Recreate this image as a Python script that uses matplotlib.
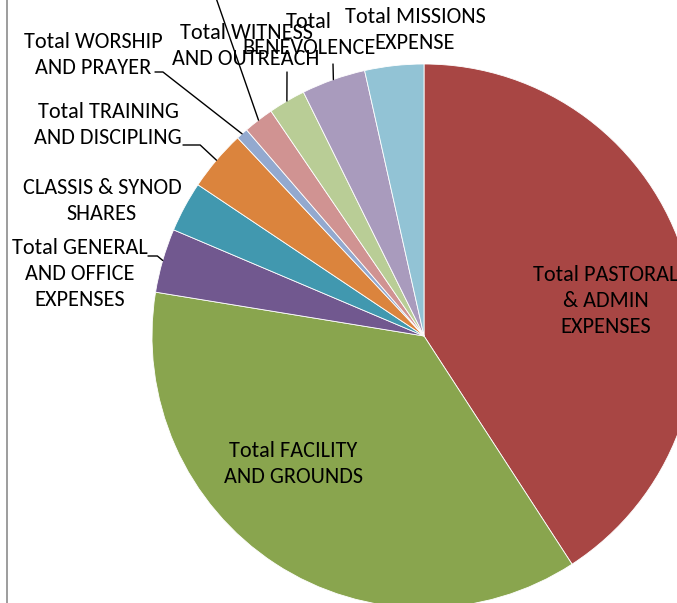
import matplotlib
matplotlib.use("Agg")
import matplotlib.pyplot as plt
from matplotlib.lines import Line2D
import numpy as np

# slices, clockwise from 12 o'clock
categories = ["Total PASTORAL & ADMIN EXPENSES", "Total FACILITY AND GROUNDS",
              "Total GENERAL AND OFFICE EXPENSES", "CLASSIS & SYNOD SHARES",
              "Total TRAINING AND DISCIPLING", "Total WORSHIP AND PRAYER",
              "", "Total WITNESS AND OUTREACH", "Total BENEVOLENCE",
              "Total MISSIONS EXPENSE"]
values = [40.8, 36.7, 3.8, 3.0, 3.6, 0.7, 1.8, 2.2, 3.8, 3.5]
colors = ["#A84644", "#89A54E", "#71588F", "#4198AF", "#DB843D",
          "#93A9CF", "#D09392", "#B9CD96", "#A99BBD", "#92C3D5"]

plt.rcParams['font.family'] = ['Carlito', 'Liberation Sans Narrow', 'Liberation Sans']
FS = 16

W, H = 677, 603
fig = plt.figure(figsize=(W / 100, H / 100), dpi=100)

def fpos(x, y):
    return x / W, 1 - y / H

cx, cy, r = 424, 336, 272
ax = fig.add_axes([(cx - r) / W, (H - cy - r) / H, 2 * r / W, 2 * r / H])
wedges, _ = ax.pie(values, colors=colors, startangle=90, counterclock=False,
                   radius=1, wedgeprops=dict(linewidth=0.6, edgecolor="white"))
ax.set_xlim(-1, 1)
ax.set_ylim(-1, 1)
ax.axis("off")

def edge_point(i):
    w = wedges[i]
    a = np.deg2rad((w.theta1 + w.theta2) / 2)
    return np.cos(a), np.sin(a)

# label text positions (pixel centres)
text_pos = {
    0: (606, 301),
    1: (293, 464),
    2: (80, 274),
    3: (102, 201),
    4: (108, 125),
    5: (93, 55),
    7: (246, 46),
    8: (309, 35),
    9: (415, 30),
}
label_text = {
    0: "Total PASTORAL\n& ADMIN\nEXPENSES",
    1: "Total FACILITY\nAND GROUNDS",
    2: "Total GENERAL\nAND OFFICE\nEXPENSES",
    3: "CLASSIS & SYNOD\nSHARES",
    4: "Total TRAINING\nAND DISCIPLING",
    5: "Total WORSHIP\nAND PRAYER",
    7: "Total WITNESS\nAND OUTREACH",
    8: "Total\nBENEVOLENCE",
    9: "Total MISSIONS\nEXPENSE",
}
for i, t in label_text.items():
    x, y = fpos(*text_pos[i])
    fig.text(x, y, t, ha="center", va="center", fontsize=FS,
             linespacing=1.38, color="black")

# leader lines: start point (pixels) and connection style
leaders = {
    2: ((148, 256), "angle,angleA=0,angleB=140,rad=0"),
    4: ((183, 145), "angle,angleA=0,angleB=137,rad=0"),
    5: ((155, 72), "angle,angleA=0,angleB=142,rad=0"),
    6: ((215, -5), "arc3"),
    7: ((287, 72), "arc3"),
    8: ((333, 64), "arc3"),
}
for i, (start, cs) in leaders.items():
    ax.annotate("", xy=edge_point(i), xycoords="data",
                xytext=fpos(*start), textcoords="figure fraction",
                arrowprops=dict(arrowstyle="-", color="black", lw=1.0,
                                connectionstyle=cs, shrinkA=0, shrinkB=0),
                annotation_clip=False)

fig.add_artist(Line2D([7 / W, 7 / W], [0, 1], color="#8c8c8c", lw=1.2))

fig.savefig("out.png", dpi=100)
